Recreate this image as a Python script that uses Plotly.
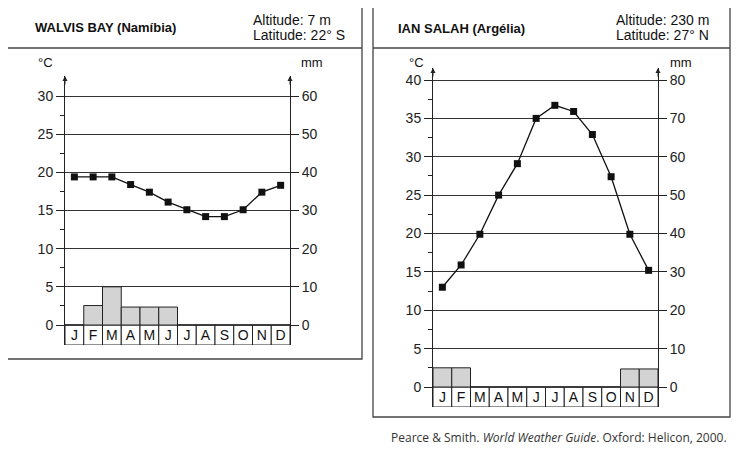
import plotly.graph_objects as go

# ---------------- data ----------------
months = ["Jan", "Fev", "Mar", "Abr", "Mai", "Jun", "Jul", "Ago", "Set", "Out", "Nov", "Dez"]
month_letters = ["J", "F", "M", "A", "M", "J", "J", "A", "S", "O", "N", "D"]

walvis_temp = [19.4, 19.4, 19.4, 18.4, 17.4, 16.1, 15.1, 14.2, 14.2, 15.1, 17.4, 18.3]
walvis_precip = [0, 5.1, 10, 4.7, 4.7, 4.7, 0, 0, 0, 0, 0, 0]
salah_temp = [13.0, 15.9, 19.9, 25.0, 29.1, 35.0, 36.7, 35.9, 32.9, 27.4, 19.9, 15.2]
salah_precip = [5, 5, 0, 0, 0, 0, 0, 0, 0, 0, 4.7, 4.7]

walvis_temp_ticks = [0, 5, 10, 15, 20, 25, 30]
walvis_mm_ticks = [0, 10, 20, 30, 40, 50, 60]
salah_temp_ticks = [0, 5, 10, 15, 20, 25, 30, 35, 40]
salah_mm_ticks = [0, 10, 20, 30, 40, 50, 60, 70, 80]

# ---------------- layout geometry ----------------
OFF = 8  # default page body margin
W, H = 739 - OFF, 452 - OFF
FONT = "Liberation Sans, Arial, sans-serif"
GRAY = "#d3d3d3"
LINE = "#222"


def px(x):
    return (x - OFF) / W


def py(y):
    return 1 - (y - OFF) / H


# left chart: temp 0 at y=325, 30 at y=96
l_scale = (325 - 96) / 30.0
l_bot = -(345 - 325) / l_scale
l_top = 30 + (96 - 76) / l_scale
# right chart: temp 0 at y=387, 40 at y=80
r_scale = (387 - 80) / 40.0
r_bot = -(407 - 387) / r_scale
r_top = 40 + (80 - 68) / r_scale

fig = go.Figure()


def add_chart(xa, ya, ya_mm, temp, precip, bot):
    fig.add_trace(go.Bar(
        x=months, y=precip, base=0, width=1, xaxis=xa, yaxis=ya_mm,
        marker=dict(color=GRAY, line=dict(color=LINE, width=1)),
        hoverinfo="skip", showlegend=False))
    fig.add_trace(go.Bar(
        x=months, y=[-bot] * len(months), base=bot, width=1, xaxis=xa, yaxis=ya,
        marker=dict(color="white", line=dict(color=LINE, width=1)),
        text=month_letters, textposition="inside", insidetextanchor="middle",
        textangle=0, constraintext="none",
        textfont=dict(family=FONT, size=14, color="#111"),
        hoverinfo="skip", showlegend=False))
    fig.add_trace(go.Scatter(
        x=months, y=temp, xaxis=xa, yaxis=ya, mode="lines+markers",
        line=dict(color="#111", width=1.3),
        marker=dict(symbol="square", size=7, color="#111"),
        hoverinfo="skip", showlegend=False))


add_chart("x", "y", "y2", walvis_temp, walvis_precip, l_bot)
add_chart("x2", "y3", "y4", salah_temp, salah_precip, r_bot)

tickfont = dict(family=FONT, size=14, color="#222")


def xaxis(dom):
    return dict(domain=dom, type="category", categoryorder="array", categoryarray=months,
                range=[-0.5, 11.5], showticklabels=False, showgrid=False, zeroline=False,
                showline=False, ticks="", fixedrange=True)


def temp_axis(dom, rng, ticks, anchor):
    minor_vals = [t + 2.5 for t in ticks[:-1]]
    return dict(domain=dom, range=rng, anchor=anchor, side="left",
                tickmode="array", tickvals=ticks, ticks="outside", ticklen=8,
                tickcolor=LINE, tickwidth=1, tickfont=tickfont,
                showline=True, linecolor=LINE, linewidth=1,
                showgrid=True, gridcolor="#333", gridwidth=1, zeroline=False,
                minor=dict(tickmode="array", tickvals=minor_vals, ticks="outside",
                           ticklen=4, tickcolor=LINE, showgrid=False),
                fixedrange=True)


def mm_axis(rng, ticks, overlay, anchor):
    return dict(range=rng, overlaying=overlay, anchor=anchor, side="right",
                tickmode="array", tickvals=ticks, ticks="outside", ticklen=8,
                tickcolor=LINE, tickwidth=1, tickfont=tickfont,
                showline=True, linecolor=LINE, linewidth=1,
                showgrid=False, zeroline=False, fixedrange=True)


l_ydom = [py(345), py(76)]
r_ydom = [py(407), py(68)]

fig.update_layout(
    width=W, height=H, margin=dict(l=0, r=0, t=0, b=0),
    paper_bgcolor="white", plot_bgcolor="rgba(0,0,0,0)",
    barmode="overlay", showlegend=False,
    font=dict(family=FONT, color="#222"),
    xaxis=xaxis([px(65), px(290)]),
    xaxis2=xaxis([px(433), px(658)]),
    yaxis=temp_axis(l_ydom, [l_bot, l_top], walvis_temp_ticks, "x"),
    yaxis2=mm_axis([2 * l_bot, 2 * l_top], walvis_mm_ticks, "y", "x"),
    yaxis3=temp_axis(r_ydom, [r_bot, r_top], salah_temp_ticks, "x2"),
    yaxis4=mm_axis([2 * r_bot, 2 * r_top], salah_mm_ticks, "y3", "x2"),
)
fig.layout.xaxis2.anchor = "y3"

# boxes and header dividers
shapes = []
for (x0, y0, x1, y1) in [(7, 6, 362, 359), (373, 6, 730, 417)]:
    shapes.append(dict(type="rect", xref="paper", yref="paper",
                       x0=px(x0), x1=px(x1), y0=py(y1), y1=py(y0),
                       line=dict(color="#444", width=1.3)))
    shapes.append(dict(type="line", xref="paper", yref="paper",
                       x0=px(x0), x1=px(x1), y0=py(48), y1=py(48),
                       line=dict(color="#444", width=1.3)))
fig.update_layout(shapes=shapes)

ann = []


def text(x, y, s, size=13, anchor="left"):
    ann.append(dict(xref="paper", yref="paper", x=px(x), y=py(y), text=s,
                    showarrow=False, xanchor=anchor, yanchor="middle",
                    font=dict(family=FONT, size=size, color="#111")))


text(33, 28, "<b>WALVIS BAY (Namíbia)</b>", 13)
text(251, 20, "Altitude: 7 m", 14)
text(251, 35, "Latitude: 22° S", 14)
text(396, 29, "<b>IAN SALAH (Argélia)</b>", 13)
text(614, 20, "Altitude: 230 m", 14)
text(614, 35, "Latitude: 27° N", 14)
text(45, 63, "°C", 13, "center")
text(312, 63, "mm", 13, "center")
text(416, 63, "°C", 13, "center")
text(681, 63, "mm", 13, "center")

ann.append(dict(xref="paper", yref="paper", x=px(729), y=py(437),
                text="Pearce &amp; Smith. <i>World Weather Guide</i>. Oxford: Helicon, 2000.",
                showarrow=False, xanchor="right", yanchor="middle",
                font=dict(family="Open Sans, sans-serif", size=12, color="#333")))

# axis arrows
for (x, y) in [(65, 76), (290, 76), (433, 68), (658, 68)]:
    ann.append(dict(xref="paper", yref="paper", x=px(x), y=py(y), ax=0, ay=10,
                    text="", showarrow=True, arrowhead=2, arrowsize=1,
                    arrowwidth=1, arrowcolor=LINE, standoff=0))

fig.update_layout(annotations=ann)

fig.write_html("out.html")
